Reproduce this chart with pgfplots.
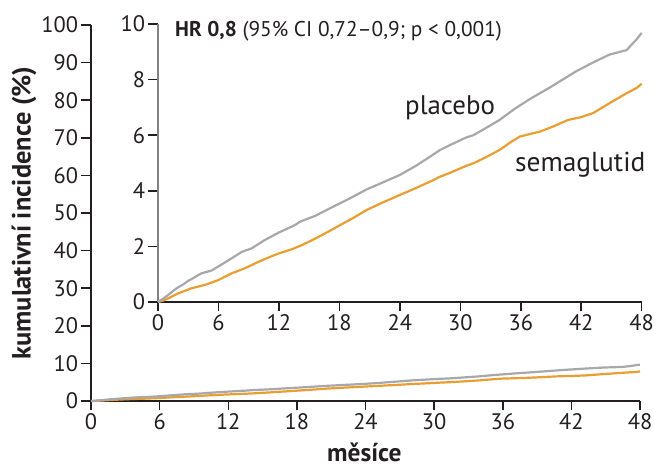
\documentclass[border=0pt]{standalone}
\usepackage{fontspec}
\setmainfont{PT Sans}
\usepackage{pgfplots}
\usepackage{pgfplotstable}
\pgfplotsset{compat=1.18}
\definecolor{pgray}{RGB}{168,168,172}
\definecolor{sorange}{RGB}{232,158,48}
\definecolor{txt}{RGB}{35,31,32}
\definecolor{inaxis}{RGB}{130,130,130}

\pgfplotstableread{
m v
0 0
0.5 0.12
1 0.25
1.5 0.40
2 0.53
2.5 0.63
3 0.76
3.5 0.86
4.3 1.03
5.3 1.13
6 1.28
7 1.50
8.3 1.80
9.3 1.93
10.6 2.23
12 2.50
13.6 2.77
14.1 2.89
15.6 3.10
17.4 3.43
19 3.72
20.7 4.05
22.3 4.30
24 4.57
25.6 4.90
27.3 5.30
28 5.47
29 5.65
30.6 5.92
31.3 6.00
32.5 6.25
33.9 6.55
35.4 6.95
36.9 7.30
38.9 7.72
40.7 8.12
41.5 8.30
43.2 8.62
44.8 8.90
46.5 9.06
47.5 9.45
48 9.68
}\placebo

\pgfplotstableread{
m v
0 0
0.5 0.05
1 0.13
2 0.31
3.3 0.49
4.7 0.62
6 0.79
7.3 1.03
8.6 1.21
10 1.45
11.3 1.65
12 1.75
13.3 1.90
14.3 2.05
15.6 2.28
17 2.55
18.1 2.77
19.5 3.05
20.7 3.31
22.3 3.58
24 3.85
25.6 4.10
27.3 4.38
28 4.51
29 4.65
30.6 4.90
31.3 4.99
32.5 5.20
33.9 5.47
35 5.75
35.9 5.95
37 6.05
37.9 6.13
39.2 6.31
40.7 6.55
42 6.65
43.2 6.80
44.8 7.15
46.5 7.51
47.5 7.70
48 7.85
}\sema

\begin{document}
\begin{tikzpicture}
\path[use as bounding box] (0,0) rectangle (654bp,468bp);
\pgfplotsset{
 common/.style={
  scale only axis,
  xmin=0, xmax=48,
  xtick={0,6,...,48},
  tick align=outside,
  axis x line*=bottom, axis y line*=left,
  axis line style={-, line width=1.6bp, color=txt},
  major tick style={line width=1.5bp, color=txt},
  major tick length=9.5bp,
  /pgf/number format/assume math mode=true,
  tick label style={font=\fontsize{22.5}{26}\selectfont, text=txt},
  clip=false,
 }
}
\begin{axis}[common,
  at={(91bp,67bp)}, anchor=south west,
  width=549bp, height=376bp,
  ymin=0, ymax=100, ytick={0,10,...,100},
  xlabel={\textbf{měsíce}},
  ylabel={\textbf{kumulativní incidence (\%)}},
  xlabel style={at={(axis description cs:0.498,-0.1596)}, anchor=base, font=\fontsize{25.5}{29}\selectfont, text=txt},
  ylabel style={at={(axis description cs:-0.122,0.5)}, anchor=center, font=\fontsize{26.5}{30}\selectfont, text=txt},
]
\addplot[sorange, line width=2.2bp] table[x=m, y=v] {\sema};
\addplot[pgray, line width=2.2bp] table[x=m, y=v] {\placebo};
\end{axis}

\begin{axis}[common,
  at={(158bp,166bp)}, anchor=south west,
  width=483.7bp, height=278bp,
  ymin=0, ymax=10, ytick={0,2,...,10},
  y axis line style={color=inaxis},
]
\addplot[sorange, line width=2.2bp] table[x=m, y=v] {\sema};
\addplot[pgray, line width=2.2bp] table[x=m, y=v] {\placebo};
\end{axis}

\node[anchor=base west, inner sep=0pt, text=txt, font=\fontsize{21.4}{25}\selectfont] at (175bp,431.3bp) {\textbf{HR 0,8} (95\% CI 0,72–0,9; p < 0,001)};
\node[anchor=base west, inner sep=0pt, text=txt, font=\fontsize{27}{31}\selectfont] at (405bp,353bp) {placebo};
\node[anchor=base west, inner sep=0pt, text=txt, font=\fontsize{27.5}{31}\selectfont] at (515bp,296.3bp) {semaglutid};
\end{tikzpicture}
\end{document}
